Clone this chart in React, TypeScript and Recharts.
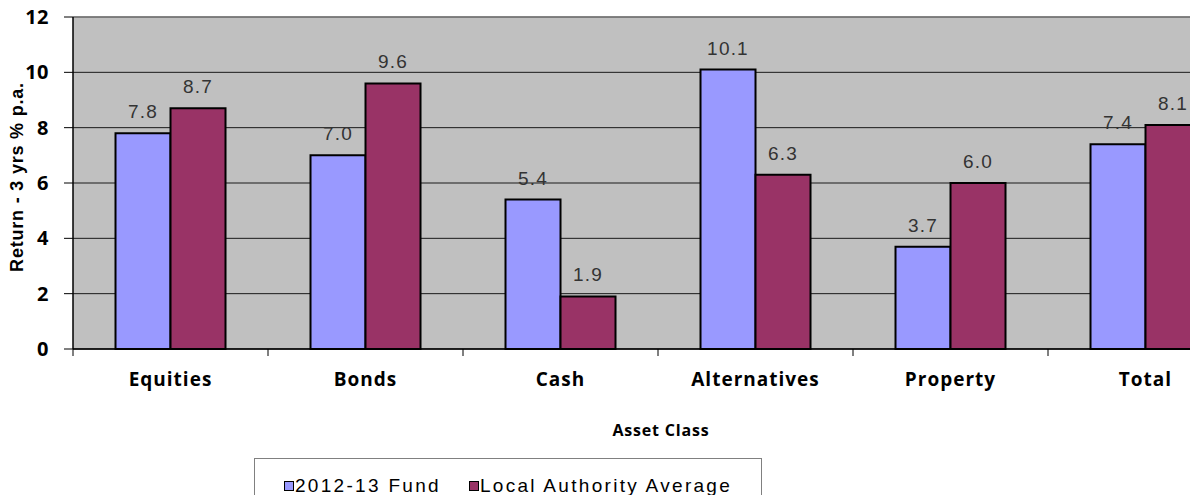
import { BarChart, Bar, XAxis, YAxis, CartesianGrid, LabelList, Legend, Label, ReferenceLine } from 'recharts';

const categories = ['Equities', 'Bonds', 'Cash', 'Alternatives', 'Property', 'Total'];
const fund = [7.8, 7.0, 5.4, 10.1, 3.7, 7.4];
const laAverage = [8.7, 9.6, 1.9, 6.3, 6.0, 8.1];
const yTicks = [0, 2, 4, 6, 8, 10, 12];

const data = categories.map((c, i) => ({ name: c, fund: fund[i], la: laAverage[i] }));

const CAT_FONT = '"Open Sans", Lato, sans-serif';
const VAL_FONT = '"Liberation Sans", Arial, sans-serif';
const HALF_BAND = 97.5; // half of one category slot, for the boundary tick marks

// category label plus the small tick mark at the left edge of its slot
function CategoryTick({ x, y, payload }: any) {
  return (
    <g>
      <line x1={x - HALF_BAND} x2={x - HALF_BAND} y1={y} y2={y + 7} stroke="#000" />
      <text
        x={x}
        y={y + 24}
        dy="0.71em"
        textAnchor="middle"
        fill="#000"
        fontFamily={CAT_FONT}
        fontWeight={700}
        fontSize={19}
        letterSpacing={1}
      >
        {payload.value}
      </text>
    </g>
  );
}

function LegendBox({ payload }: any) {
  return (
    <div
      style={{
        border: '1px solid #808080',
        background: '#fff',
        width: 508,
        height: 60,
        boxSizing: 'border-box',
        position: 'relative',
        fontFamily: VAL_FONT,
        fontSize: 19,
        lineHeight: '22px',
        letterSpacing: 2.3,
        color: '#000',
      }}
    >
      <div style={{ position: 'absolute', left: 29, top: 16, display: 'flex', whiteSpace: 'nowrap' }}>
        {(payload || []).map((p: any) => (
          <span key={p.value} style={{ display: 'flex', alignItems: 'center', marginRight: 28 }}>
            <span
              style={{
                display: 'inline-block',
                width: 10,
                height: 10,
                border: '1.5px solid #000',
                background: p.color,
                marginRight: 1,
                boxSizing: 'border-box',
              }}
            />
            {p.value}
          </span>
        ))}
      </div>
    </div>
  );
}

export default function App() {
  return (
    <div style={{ position: 'fixed', left: 0, top: 0, width: 1190, height: 495, overflow: 'hidden', background: '#fff' }}>
      <BarChart
        width={1260}
        height={495}
        data={data}
        margin={{ top: 17, right: 17, left: 23, bottom: 0 }}
        barCategoryGap="21.8%"
        barGap={0}
      >
        <CartesianGrid stroke="#1a1a1a" vertical={false} fill="#C0C0C0" />
        <ReferenceLine y={12} stroke="#808080" strokeWidth={1.5} />
        <XAxis
          dataKey="name"
          height={86}
          axisLine={{ stroke: '#000', strokeWidth: 1.5 }}
          tickLine={false}
          tickSize={0}
          tickMargin={0}
          tick={<CategoryTick />}
          interval={0}
        >
          <Label
            content={() => (
              <text
                x={661}
                y={436}
                textAnchor="middle"
                fontFamily={CAT_FONT}
                fontWeight={700}
                fontSize={16}
                letterSpacing={0.8}
                fill="#000"
              >
                Asset Class
              </text>
            )}
          />
        </XAxis>
        <YAxis
          width={50}
          domain={[0, 12]}
          ticks={yTicks}
          axisLine={{ stroke: '#000', strokeWidth: 1.5 }}
          tickLine={{ stroke: '#000' }}
          tickSize={9}
          tickMargin={15}
          tick={{ fill: '#000', fontFamily: CAT_FONT, fontWeight: 700, fontSize: 20, letterSpacing: 0.5 }}
        >
          <Label
            content={() => (
              <text
                x={23}
                y={177}
                transform="rotate(-90 23 177)"
                textAnchor="middle"
                fontFamily={VAL_FONT}
                fontWeight={700}
                fontSize={18}
                letterSpacing={0.8}
                fill="#000"
              >
                Return - 3 yrs % p.a.
              </text>
            )}
          />
        </YAxis>
        <Legend
          content={<LegendBox />}
          wrapperStyle={{ position: 'absolute', left: 254, top: 458, width: 508, height: 60 }}
        />
        <Bar dataKey="fund" name="2012-13 Fund" fill="#9999FF" stroke="#000" strokeWidth={2} isAnimationActive={false}>
          <LabelList
            dataKey="fund"
            position="top"
            offset={15}
            formatter={(v: any) => Number(v).toFixed(1)}
            style={{ fill: '#333', fontFamily: VAL_FONT, fontSize: 19, letterSpacing: 1.2 }}
          />
        </Bar>
        <Bar dataKey="la" name="Local Authority Average" fill="#993366" stroke="#000" strokeWidth={2} isAnimationActive={false}>
          <LabelList
            dataKey="la"
            position="top"
            offset={15}
            formatter={(v: any) => Number(v).toFixed(1)}
            style={{ fill: '#333', fontFamily: VAL_FONT, fontSize: 19, letterSpacing: 1.2 }}
          />
        </Bar>
      </BarChart>
    </div>
  );
}
